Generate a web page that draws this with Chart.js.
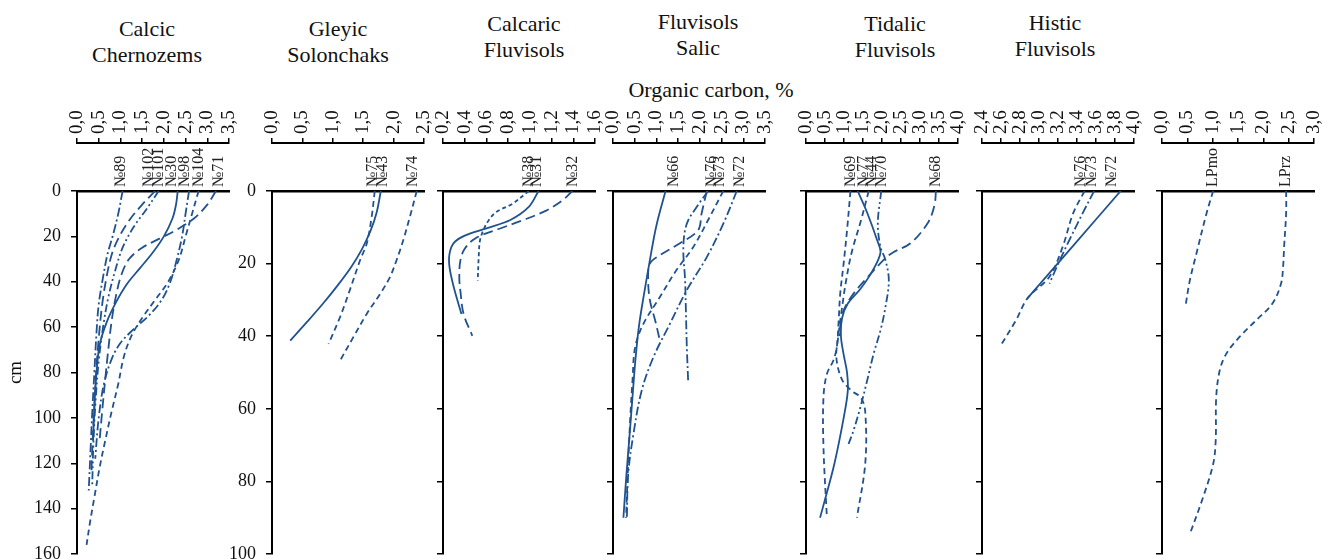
<!DOCTYPE html>
<html>
<head>
<meta charset="utf-8">
<script src="https://cdn.jsdelivr.net/npm/chart.js@4.4.0/dist/chart.umd.min.js"></script>
<style>
  body { margin:0; width:1333px; height:559px; overflow:hidden; background:#fff; position:relative;
         font-family:"Liberation Serif","DejaVu Serif",serif; }
  .ttl { position:absolute; width:200px; text-align:center; font-family:"Liberation Serif","DejaVu Serif",serif;
         font-size:22px; line-height:26px; color:#111; }
  canvas { position:absolute; top:0; }
</style>
</head>
<body>
<div class="ttl" style="left:47px;top:16px">Calcic<br>Chernozems</div>
<div class="ttl" style="left:238px;top:16px">Gleyic<br>Solonchaks</div>
<div class="ttl" style="left:424px;top:11px">Calcaric<br>Fluvisols</div>
<div class="ttl" style="left:598px;top:9px">Fluvisols<br>Salic</div>
<div class="ttl" style="left:795px;top:11px">Tidalic<br>Fluvisols</div>
<div class="ttl" style="left:955px;top:10px">Histic<br>Fluvisols</div>
<div class="ttl" style="left:611px;top:77px">Organic carbon, %</div>

<canvas id="c1"></canvas>
<canvas id="c2"></canvas>
<canvas id="c3"></canvas>
<canvas id="c4"></canvas>
<canvas id="c5"></canvas>
<canvas id="c6"></canvas>
<canvas id="c7"></canvas>

<script>
// top axis tick values
var ticksCC = [0, 0.5, 1.0, 1.5, 2.0, 2.5, 3.0, 3.5];
var ticksGS = [0, 0.5, 1.0, 1.5, 2.0, 2.5];
var ticksCF = [0.2, 0.4, 0.6, 0.8, 1.0, 1.2, 1.4, 1.6];
var ticksFS = [0, 0.5, 1.0, 1.5, 2.0, 2.5, 3.0, 3.5];
var ticksTF = [0, 0.5, 1.0, 1.5, 2.0, 2.5, 3.0, 3.5, 4.0];
var ticksHF = [2.4, 2.6, 2.8, 3.0, 3.2, 3.4, 3.6, 3.8, 4.0];
var ticksLP = [0, 0.5, 1.0, 1.5, 2.0, 2.5, 3.0];

// Calcic Chernozems (C = organic carbon %, D = depth cm)
var cc89C  = [1.05, 0.95, 0.82, 0.7, 0.6, 0.5, 0.45, 0.4, 0.35, 0.31, 0.27];
var cc89D  = [0, 10, 20, 28, 38, 50, 62, 80, 98, 115, 132];
var cc102C = [1.8, 1.5, 1.2, 0.95, 0.8, 0.68, 0.58, 0.5, 0.44, 0.4, 0.36, 0.33];
var cc102D = [0, 6, 13, 21, 28, 38, 50, 65, 80, 95, 110, 125];
var cc101C = [1.88, 1.6, 1.3, 1.05, 0.88, 0.72, 0.6, 0.5, 0.43, 0.38, 0.35];
var cc101D = [0, 8, 16, 25, 35, 47, 60, 75, 92, 110, 130];
var cc30C  = [2.32, 2.28, 2.2, 2.0, 1.75, 1.45, 1.15, 0.9, 0.68, 0.52, 0.45, 0.4, 0.37];
var cc30D  = [0, 6, 12, 20, 27, 34, 41, 49, 58, 68, 80, 95, 110];
var cc98C  = [2.58, 2.5, 2.42, 2.3, 2.15, 1.95, 1.65, 1.3, 1.0, 0.8, 0.62, 0.5, 0.42];
var cc98D  = [0, 10, 20, 30, 40, 48, 55, 61, 67, 74, 85, 100, 118];
var cc104C = [2.8, 2.65, 2.5, 2.35, 2.1, 1.8, 1.5, 1.25, 1.08, 0.95, 0.8, 0.65, 0.52, 0.4, 0.3, 0.22];
var cc104D = [0, 10, 20, 30, 40, 48, 56, 64, 73, 85, 97, 110, 122, 135, 146, 156];
var cc71C  = [3.2, 3.0, 2.7, 2.3, 1.9, 1.5, 1.2, 1.02, 0.9, 0.8, 0.72, 0.65, 0.58, 0.52];
var cc71D  = [0, 6, 12, 17, 21, 25, 30, 37, 46, 57, 70, 83, 97, 110];
var ccNames = ['№89', '№102', '№101', '№30', '№98', '№104', '№71'];
var ccLabelAt = [1.01, 1.65, 1.89, 2.18, 2.49, 2.8, 3.26];

// Gleyic Solonchaks
var gs75C = [1.69, 1.64, 1.56, 1.45, 1.28, 1.12, 0.93];
var gs75D = [0, 7, 14.4, 19, 27.3, 34.7, 42.1];
var gs43C = [1.79, 1.72, 1.62, 1.48, 1.3, 1.08, 0.84, 0.58, 0.3];
var gs43D = [0, 6, 11, 16, 21, 26, 31, 36, 41.2];
var gs74C = [2.38, 2.27, 2.16, 2.05, 1.94, 1.78, 1.56, 1.34, 1.12];
var gs74D = [0, 7, 13.5, 19, 23.7, 28.3, 33.8, 40.2, 46.7];
var gsNames = ['№75', '№43', '№74'];
var gsLabelAt = [1.66, 1.83, 2.32];

// Calcaric Fluvisols
var cf38C = [0.99, 0.84, 0.69, 0.62, 0.57, 0.54, 0.53, 0.52];
var cf38D = [0, 3.5, 5.8, 8.1, 10.9, 13.7, 17.4, 24.7];
var cf31C = [1.08, 0.99, 0.82, 0.6, 0.4, 0.3, 0.26, 0.26, 0.3, 0.37];
var cf31D = [0, 4.4, 8, 10.3, 12.3, 14.3, 17.3, 21, 26.6, 33.9];
var cf32C = [1.39, 1.3, 1.15, 0.93, 0.72, 0.5, 0.4, 0.36, 0.35, 0.36, 0.39, 0.47];
var cf32D = [0, 2.6, 5.4, 8.1, 10.4, 13, 15.9, 19.2, 23.8, 27.5, 33.9, 39.9];
var cfNames = ['№38', '№31', '№32'];
var cfLabelAt = [0.99, 1.06, 1.4];

// Fluvisols Salic
var fs66C = [1.21, 1.0, 0.85, 0.72, 0.6, 0.52, 0.46, 0.39, 0.31, 0.24];
var fs66D = [0, 9.5, 19, 28, 37, 46, 55, 66, 78, 90];
var fs76C = [2.19, 1.95, 1.7, 1.62, 1.66, 1.68, 1.7, 1.73];
var fs76D = [0, 4, 9, 15.4, 24.6, 33.8, 43, 52.2];
var fs73C = [2.16, 2.04, 1.96, 1.54, 1.08, 0.85, 0.81, 0.85, 0.97, 1.08];
var fs73D = [0, 6.2, 10.8, 14.4, 17.7, 20, 24.6, 30.1, 35.6, 41.2];
var fs72C = [2.54, 2.19, 1.85, 1.45, 1.08, 0.7, 0.51, 0.45, 0.4, 0.35, 0.3];
var fs72D = [0, 8, 15.4, 22, 29.2, 36.6, 43, 52, 62, 75, 90];
var fs72bC = [2.85, 2.54, 2.16, 1.7, 1.31, 0.93, 0.66, 0.47, 0.35, 0.32];
var fs72bD = [0, 9, 18.2, 27.3, 36.6, 45.8, 55, 67, 78, 90];
var fsNames = ['№66', '№76', '№73', '№72'];
var fsLabelAt = [1.39, 2.27, 2.46, 2.92];

// Tidalic Fluvisols
var tf69C = [1.17, 1.08, 0.99, 0.9, 0.86, 0.81, 0.72, 0.55, 0.46, 0.46, 0.55];
var tf69D = [0, 10.8, 20, 28.3, 35.6, 43, 46.7, 50.4, 56.8, 70.6, 90];
var tf77C = [1.36, 1.61, 1.87, 1.96, 1.75, 1.43, 1.1, 0.95, 0.92, 0.99, 1.08, 1.1, 1.0, 0.75, 0.5, 0.37];
var tf77D = [0, 6, 13.5, 17, 22, 27, 31, 35, 40, 45, 50, 55, 62, 75, 85, 90];
var tf44C = [1.65, 1.45, 1.2, 1.05, 0.95, 0.85, 0.8, 0.95, 1.2, 1.45, 1.56, 1.56, 1.34];
var tf44D = [0, 8, 17, 25, 32, 40, 46, 52, 55, 57, 61, 75, 90];
var tf70C = [1.98, 1.89, 1.96, 2.09, 2.18, 2.09, 1.96, 1.78, 1.61, 1.43, 1.25, 1.12];
var tf70D = [0, 8.9, 15.4, 19, 24.6, 32, 38.4, 44.8, 52.2, 59.6, 66, 69.7];
var tf68C = [3.42, 3.38, 3.2, 2.75, 2.31, 2.09, 1.6, 1.2, 0.95, 0.88];
var tf68D = [0, 4, 8.9, 14.4, 16.8, 18.5, 24, 29, 34, 40];
var tfNames = ['№69', '№77', '№44', '№70', '№68'];
var tfLabelAt = [1.17, 1.52, 1.74, 2.0, 3.42];

// Histic Fluvisols
var hf76C = [3.48, 3.36, 3.25, 3.11, 2.88, 2.76, 2.61];
var hf76D = [0, 6.1, 15.3, 23.6, 29.5, 35.5, 42];
var hf73C = [3.58, 3.46, 3.32, 3.22, 3.11];
var hf73D = [0, 6.1, 13.5, 19, 25.5];
var hf72C = [3.86, 3.37, 2.88];
var hf72D = [0, 14.75, 29.5];
var hfNames = ['№76', '№73', '№72'];
var hfLabelAt = [3.44, 3.56, 3.77];

// LPmo / LPrz
var lpmoC = [1.01, 0.88, 0.68, 0.55, 0.46];
var lpmoD = [0, 6.1, 17.2, 24.6, 32];
var lprzC = [2.45, 2.45, 2.41, 2.39, 2.35, 2.18, 1.86, 1.53, 1.27, 1.14, 1.07, 1.06, 1.01, 0.81, 0.55];
var lprzD = [0, 6.1, 15.4, 20.9, 25.5, 31, 35.6, 40.2, 44.8, 49.4, 56.8, 68.7, 75.2, 84.4, 94.5];
var lpNames = ['LPmo', 'LPrz'];
var lpLabelAt = [1.0, 2.45];

var BLUE = '#1f528f';
var FONT = '"Liberation Serif","DejaVu Serif",serif';
var TICK_SIZE = 19, NAME_SIZE = 16;
var SOLID = [], DASH = [6, 4], LONG = [10, 5], SHORT = [4, 3], DOT1 = [9, 3, 2, 3], DOT2 = [8, 3, 2, 3, 2, 3];

var panels = [
  {id:'c1', left:77, min:0, max:3.5, ticks:ticksCC, ymax:160, yLab:true, yTitle:true, names:ccNames, labelAt:ccLabelAt,
   series:[[cc89C, cc89D, DOT1], [cc102C, cc102D, LONG], [cc101C, cc101D, DOT2], [cc30C, cc30D, SOLID],
           [cc98C, cc98D, DOT1], [cc104C, cc104D, DASH], [cc71C, cc71D, LONG]]},
  {id:'c2', left:272, min:0, max:2.5, ticks:ticksGS, ymax:100, yLab:true, names:gsNames, labelAt:gsLabelAt,
   series:[[gs75C, gs75D, DASH], [gs43C, gs43D, SOLID], [gs74C, gs74D, DASH]]},
  {id:'c3', left:443, min:0.2, max:1.6, ticks:ticksCF, ymax:100, names:cfNames, labelAt:cfLabelAt,
   series:[[cf38C, cf38D, SHORT], [cf31C, cf31D, SOLID], [cf32C, cf32D, LONG]]},
  {id:'c4', left:613, min:0, max:3.5, ticks:ticksFS, ymax:100, names:fsNames, labelAt:fsLabelAt,
   series:[[fs66C, fs66D, SOLID], [fs76C, fs76D, DOT1], [fs73C, fs73D, LONG], [fs72C, fs72D, DASH], [fs72bC, fs72bD, DOT1]]},
  {id:'c5', left:806, min:0, max:4.0, ticks:ticksTF, ymax:100, names:tfNames, labelAt:tfLabelAt,
   series:[[tf69C, tf69D, DASH], [tf77C, tf77D, SOLID], [tf44C, tf44D, DASH], [tf70C, tf70D, DOT2], [tf68C, tf68D, LONG]]},
  {id:'c6', left:982, min:2.4, max:4.0, ticks:ticksHF, ymax:100, names:hfNames, labelAt:hfLabelAt,
   series:[[hf76C, hf76D, DASH], [hf73C, hf73D, DOT1], [hf72C, hf72D, SOLID]]},
  {id:'c7', left:1162, min:0, max:3.0, ticks:ticksLP, ymax:100, names:lpNames, labelAt:lpLabelAt,
   series:[[lpmoC, lpmoD, DASH], [lprzC, lprzD, DASH]]}
];

function build(p) {
  var cv = document.getElementById(p.id);
  cv.width = 72 + 152 + 16;
  cv.height = 580;
  cv.style.left = (p.left - 72) + 'px';

  var ds = p.series.map(function (s) {
    return {
      data: s[0].map(function (c, i) { return {x: c, y: s[1][i]}; }),
      borderColor: BLUE, borderWidth: 1.8, borderDash: s[2],
      showLine: true, pointRadius: 0, tension: 0.35, fill: false
    };
  });

  new Chart(cv, {
    type: 'scatter',
    data: {datasets: ds},
    options: {
      responsive: false, animation: false, devicePixelRatio: 1,
      layout: {padding: {top: 90, right: 16, bottom: 26, left: 0}},
      plugins: {legend: {display: false}, tooltip: {enabled: false}},
      scales: {
        x: {
          type: 'linear', position: 'top', min: p.min, max: p.max, weight: 1,
          afterBuildTicks: function (s) { s.ticks = p.ticks.map(function (v) { return {value: v}; }); },
          afterFit: function (s) { s.height = 53; },
          // rotated top labels are drawn one line-height to the left, labelOffset puts them back on the tick
          ticks: {minRotation: 90, maxRotation: 90, autoSkip: false, padding: 4, color: '#111',
                  labelOffset: TICK_SIZE * 1.2,
                  font: {family: FONT, size: TICK_SIZE},
                  callback: function (v) { return Number(v).toFixed(1).replace('.', ','); }},
          grid: {drawOnChartArea: false, tickLength: 5, color: '#000', lineWidth: 1.5},
          border: {display: true, color: '#000', width: 2}
        },
        xl: {
          type: 'linear', axis: 'x', position: 'top', min: p.min, max: p.max, weight: 0,
          afterBuildTicks: function (s) { s.ticks = p.labelAt.map(function (v) { return {value: v}; }); },
          afterFit: function (s) { s.height = 48; },
          ticks: {minRotation: 90, maxRotation: 90, autoSkip: false, padding: 4, color: '#222',
                  labelOffset: NAME_SIZE * 1.2,
                  font: {family: FONT, size: NAME_SIZE},
                  callback: function (v, i) { return p.names[i]; }},
          grid: {drawOnChartArea: false, drawTicks: false},
          border: {display: true, color: '#000', width: 2.5}
        },
        y: {
          type: 'linear', position: 'left', reverse: true, min: 0, max: p.ymax,
          afterFit: function (s) { s.width = 72; },
          ticks: {stepSize: 20, display: !!p.yLab, padding: 10, color: '#111', font: {family: FONT, size: 18}},
          grid: {drawOnChartArea: false, tickLength: 6, color: '#000', lineWidth: 1.5},
          border: {display: true, color: '#000', width: 2},
          title: {display: !!p.yTitle, text: 'cm', color: '#111', padding: 0, font: {family: FONT, size: 19}}
        }
      }
    }
  });
}

panels.forEach(build);
</script>
</body>
</html>
